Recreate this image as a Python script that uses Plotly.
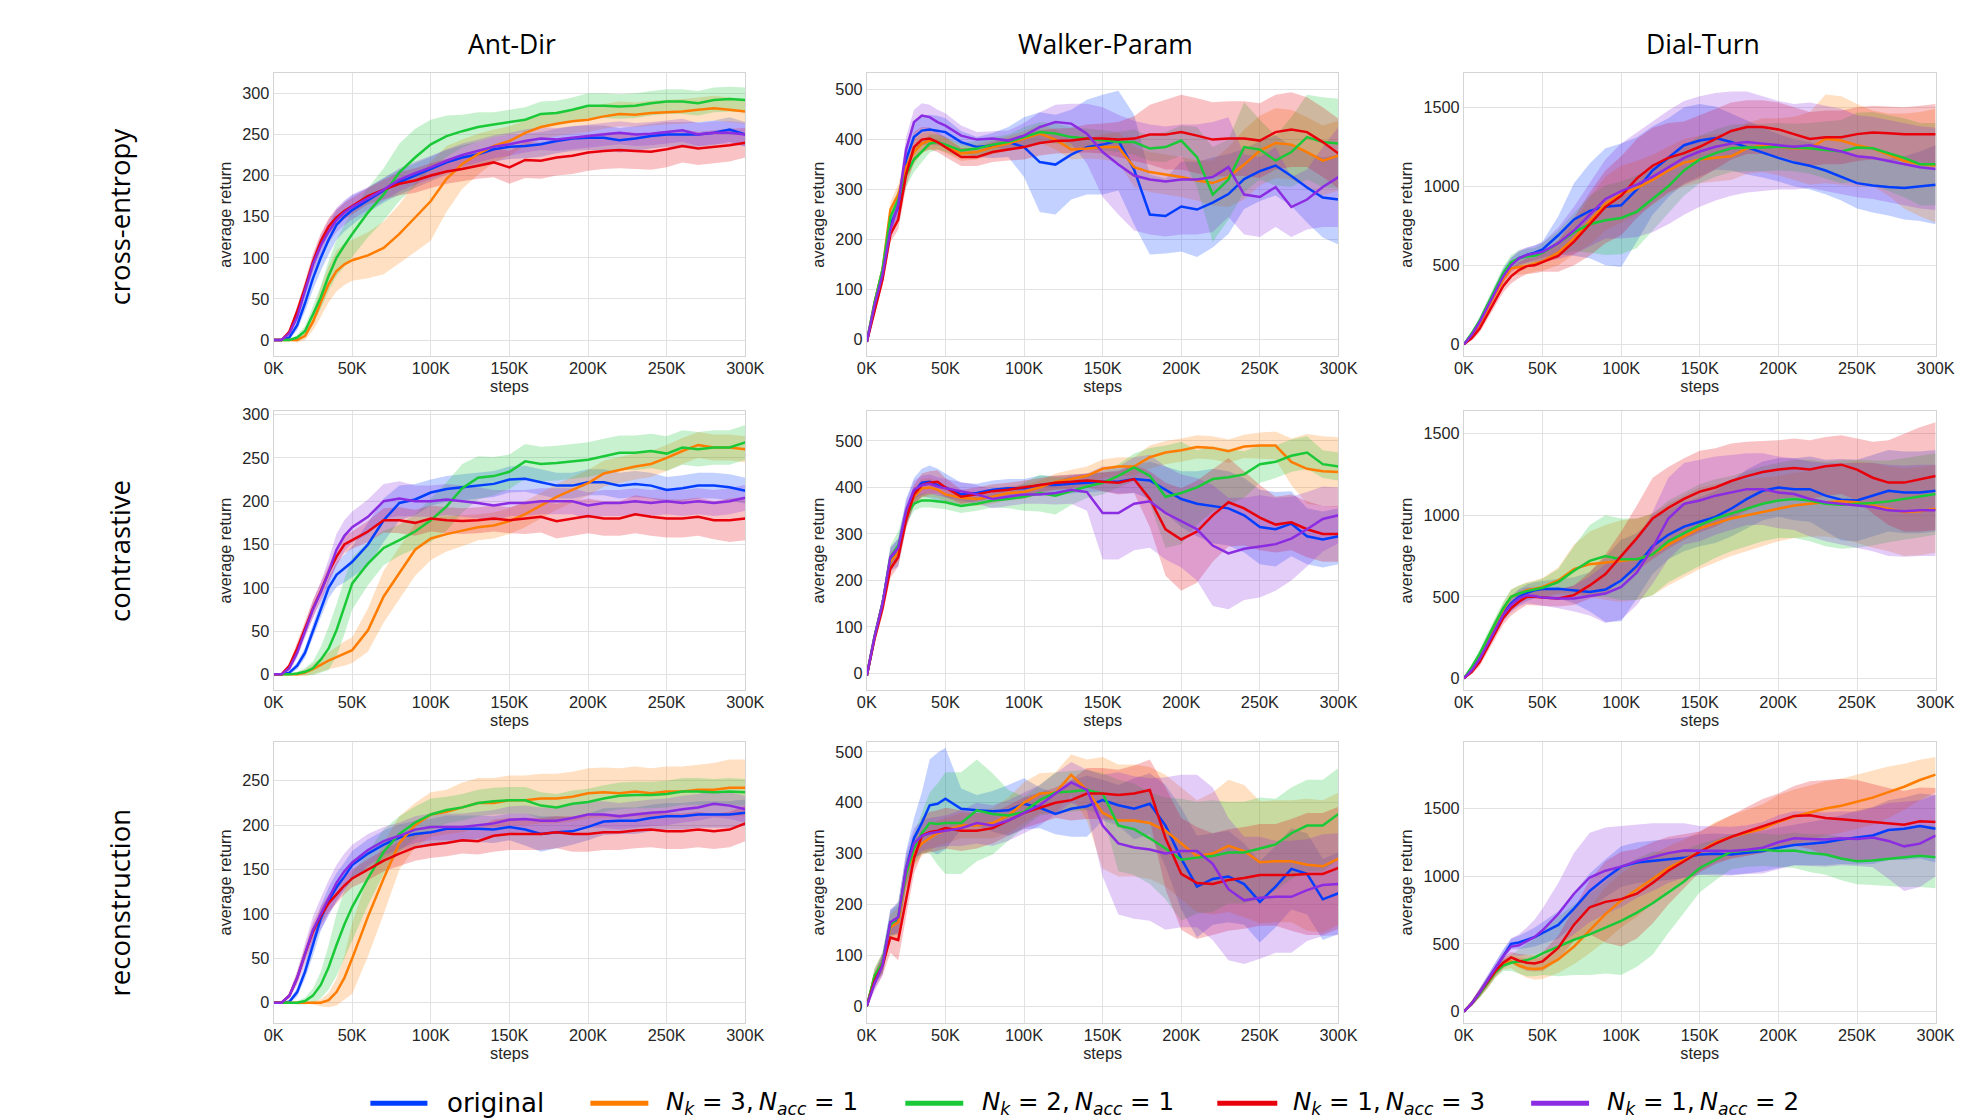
import plotly.graph_objects as go

# ---------------- data ----------------
STEPS_K = [0, 5, 10, 15, 20, 25, 30, 35, 40, 45, 50, 60, 70, 80, 90, 100, 110, 120, 130, 140, 150,
           160, 170, 180, 190, 200, 210, 220, 230, 240, 250, 260, 270, 280, 290, 300]

ENVIRONMENTS = ["Ant-Dir", "Walker-Param", "Dial-Turn"]
LOSSES = ["cross-entropy", "contrastive", "reconstruction"]
SERIES_NAMES = [
    "original",
    "<i>N</i><sub><i>k</i></sub> = 3,&#8201;<i>N</i><sub><i>acc</i></sub> = 1",
    "<i>N</i><sub><i>k</i></sub> = 2,&#8201;<i>N</i><sub><i>acc</i></sub> = 1",
    "<i>N</i><sub><i>k</i></sub> = 1,&#8201;<i>N</i><sub><i>acc</i></sub> = 3",
    "<i>N</i><sub><i>k</i></sub> = 1,&#8201;<i>N</i><sub><i>acc</i></sub> = 2",
]
X_TICK_VALUES = [0, 50000, 100000, 150000, 200000, 250000, 300000]
X_TICK_LABELS = ["0K", "50K", "100K", "150K", "200K", "250K", "300K"]

# cross-entropy / Ant-Dir
ce_ant_orig = [0,0,3,18,45,75,100,122,140,150,158, 170,182,192,200,208,216,222,226,232,235, 236,238,242,245,246,246,243,245,248,250, 250,250,252,256,250]
ce_ant_k3a1 = [0,0,0,0,5,22,46,68,84,92,97, 103,112,129,149,169,196,214,226,236,242, 252,259,263,266,268,272,275,274,276,277, 278,280,282,280,278]
ce_ant_k2a1 = [0,0,0,3,11,31,52,78,100,115,129, 155,177,204,222,238,248,254,259,262,265, 268,275,276,280,285,285,284,285,288,290, 290,288,292,293,292]
ce_ant_k1a3 = [0,0,10,35,64,95,120,138,149,157,163, 175,183,190,194,200,205,208,212,216,210, 219,218,222,224,228,230,231,230,229,232, 236,233,235,237,240]
ce_ant_k1a2 = [0,0,8,28,60,92,115,132,146,155,162, 172,183,195,203,210,218,225,230,235,238, 242,245,244,246,248,250,252,250,251,253, 255,250,252,252,250]
ce_ant_orig_hw = [0,0,2,6,10,14,16,18,18,18,18, 15,15,15,15,15,15,15,15,15,15, 15,15,15,15,15,15,15,15,15,15, 15,15,15,15,15]
ce_ant_k3a1_hw = [0,0,1,3,5,10,18,22,25,25,25, 28,32,36,42,48,40,30,25,20,18, 15,15,15,15,15,15,15,15,15,15, 15,15,15,15,15]
ce_ant_k2a1_hw = [0,0,0,3,6,10,14,18,22,25,28, 30,32,35,35,30,25,20,18,15,15, 15,15,15,15,15,15,15,15,15,15, 15,15,15,15,15]
ce_ant_k1a3_hw = [0,0,3,6,8,10,10,10,10,10,10, 10,12,14,15,15,15,15,16,18,20, 22,22,22,22,22,22,22,22,22,22, 20,20,20,20,18]
ce_ant_k1a2_hw = [0,0,3,6,8,10,12,14,15,15,15, 14,14,14,14,14,14,14,14,14,14, 14,14,14,14,14,14,14,14,14,14, 14,14,14,14,14]

# cross-entropy / Walker-Param
ce_walker_orig = [-5,70,130,230,265,360,405,418,420,418,415, 395,385,388,395,385,355,350,370,385,390, 398,340,250,247,266,260,274,291,321,337, 348,327,304,284,280]
ce_walker_k3a1 = [-5,75,140,260,290,345,375,392,398,395,388, 372,375,385,392,402,412,400,380,382,385, 385,345,335,330,325,318,313,325,350,378, 393,390,375,358,368]
ce_walker_k2a1 = [-5,75,140,245,280,330,360,375,392,395,390, 378,382,390,395,405,415,412,405,402,398, 395,395,382,385,398,365,290,320,385,380, 358,375,405,395,392]
ce_walker_k1a3 = [-5,60,120,210,240,330,385,400,402,395,385, 365,365,375,380,385,393,397,398,402,402, 400,402,410,410,415,408,400,402,402,398, 415,420,415,395,372]
ce_walker_k1a2 = [-5,70,130,220,270,380,435,448,445,435,428, 408,400,402,398,408,425,435,432,412,375, 350,328,320,316,320,320,325,345,290,285, 305,265,280,305,325]
ce_walker_orig_hw = [3,10,12,15,20,25,28,30,30,30,28, 22,20,25,30,60,100,100,90,95,100, 100,110,80,75,90,95,90,80,60,60, 60,60,70,80,90]
ce_walker_k3a1_hw = [3,10,12,15,20,25,25,20,18,15,15, 15,15,15,15,15,18,20,20,20,25, 30,40,40,40,40,40,45,60,70,70, 70,70,70,70,70]
ce_walker_k2a1_hw = [3,10,12,15,20,25,25,20,18,15,15, 15,15,15,15,20,20,20,20,20,20, 20,25,25,30,30,60,95,80,90,60, 50,70,85,90,90]
ce_walker_k1a3_hw = [3,10,12,15,20,25,30,25,22,20,20, 18,18,20,22,25,25,25,25,28,30, 35,45,60,70,75,75,75,75,75,75, 75,75,70,70,70]
ce_walker_k1a2_hw = [3,10,12,15,20,25,25,25,25,25,25, 20,15,15,20,25,30,35,40,60,90, 100,110,110,110,110,110,110,100,80,80, 80,60,60,80,100]

# cross-entropy / Dial-Turn
ce_dial_orig = [0,60,140,240,340,440,510,545,565,580,600, 690,790,845,870,880,980,1100,1180,1260,1290, 1305,1280,1245,1215,1180,1150,1130,1100,1060,1020, 1005,995,990,1000,1010]
ce_dial_k3a1 = [0,60,130,230,320,410,480,490,495,510,525, 580,670,780,890,950,990,1040,1100,1150,1170, 1180,1190,1240,1260,1250,1240,1240,1300,1290,1260, 1240,1200,1160,1140,1130]
ce_dial_k2a1 = [0,70,150,250,350,450,520,545,555,560,580, 640,710,760,785,800,840,920,1000,1100,1170, 1210,1240,1245,1245,1250,1245,1240,1230,1220,1245, 1240,1210,1180,1140,1140]
ce_dial_k1a3 = [0,40,100,190,280,370,430,470,495,500,520, 560,650,760,870,940,1050,1130,1180,1210,1250, 1300,1350,1375,1375,1360,1330,1300,1310,1310,1330, 1340,1335,1330,1330,1330]
ce_dial_k1a2 = [0,60,140,240,340,430,500,545,565,575,585, 640,720,820,920,970,1010,1060,1120,1180,1220, 1250,1270,1280,1270,1260,1250,1260,1240,1220,1190, 1180,1160,1140,1120,1110]
ce_dial_orig_hw = [0,15,25,30,35,40,40,40,45,45,50, 120,230,300,370,390,330,280,250,240,230, 200,180,170,160,150,150,150,150,150,160, 170,180,200,220,250]
ce_dial_k3a1_hw = [0,15,25,30,35,40,45,50,50,50,60, 80,100,150,170,180,170,160,150,150,150, 150,150,160,170,180,200,230,280,280,260, 240,260,300,330,360]
ce_dial_k2a1_hw = [0,15,25,30,35,40,45,50,50,50,60, 80,120,180,220,230,230,200,170,160,150, 150,150,150,150,150,150,160,180,200,220, 230,240,250,260,260]
ce_dial_k1a3_hw = [0,15,25,30,35,40,45,50,50,50,60, 100,150,200,230,250,250,240,220,200,200, 190,180,170,170,170,170,170,170,170,170, 170,170,170,180,190]
ce_dial_k1a2_hw = [0,15,25,30,35,40,45,50,50,50,60, 100,150,200,250,300,330,350,360,360,350, 340,330,320,300,280,270,270,270,270,260, 260,260,260,260,260]

# contrastive / Ant-Dir
con_ant_orig = [0,0,2,10,25,50,76,100,115,122,130, 150,178,198,202,210,214,216,218,220,225, 226,222,218,218,222,222,218,220,218,213, 215,218,218,216,212]
con_ant_k3a1 = [0,0,0,0,2,6,11,16,20,24,28, 51,90,117,144,157,162,166,170,172,177, 185,195,205,213,221,232,236,240,243,250, 258,265,262,262,260]
con_ant_k2a1 = [0,0,0,1,3,7,17,30,51,78,105, 128,146,155,165,178,194,215,227,229,234, 246,243,244,246,248,252,256,256,258,255, 262,260,262,262,268]
con_ant_k1a3 = [0,0,10,30,53,76,96,118,136,150,155, 165,178,178,175,180,178,177,178,180,178, 180,182,177,180,183,180,180,185,182,180, 180,182,178,178,180]
con_ant_k1a2 = [0,0,7,25,50,75,95,118,144,160,170, 182,200,203,200,200,202,200,198,195,198, 198,200,200,200,195,198,198,200,198,200, 198,200,198,200,204]
con_ant_orig_hw = [0,0,2,4,6,8,10,12,14,16,18, 25,25,20,18,15,15,15,15,15,15, 15,15,15,15,15,15,15,15,15,15, 15,15,15,15,15]
con_ant_k3a1_hw = [0,0,0,2,4,6,8,10,12,14,15, 25,30,30,30,25,20,18,15,15,15, 15,15,15,15,15,15,15,15,15,15, 15,15,15,15,15]
con_ant_k2a1_hw = [0,0,0,2,4,8,15,25,30,32,30, 25,20,18,20,25,28,28,25,22,20, 20,20,20,20,20,20,20,20,20,20, 20,20,20,20,20]
con_ant_k1a3_hw = [0,0,3,6,8,10,10,10,10,10,10, 12,14,15,15,15,15,15,15,15,15, 18,18,20,20,20,20,20,22,22,22, 22,22,22,25,25]
con_ant_k1a2_hw = [0,0,3,6,8,10,12,15,18,18,18, 20,20,20,18,18,18,18,18,18,15, 15,15,15,15,15,15,15,15,15,15, 15,15,15,15,15]

# contrastive / Walker-Param
con_walker_orig = [-5,80,150,245,260,345,390,410,412,405,400, 385,388,395,398,398,405,405,408,410,412, 412,418,415,395,375,365,360,355,340,315, 310,322,295,288,295]
con_walker_k3a1 = [-5,80,150,240,260,340,380,398,400,395,385, 378,375,380,388,390,400,412,418,425,440, 445,445,465,475,480,487,485,478,488,490, 490,455,440,435,433]
con_walker_k2a1 = [-5,80,150,250,275,340,365,372,372,370,368, 360,365,372,375,380,388,382,392,402,410, 425,443,425,380,388,400,418,422,428,450, 455,468,475,450,445]
con_walker_k1a3 = [-5,75,140,225,250,330,385,405,410,412,400, 380,385,392,395,400,405,410,412,415,412, 410,418,375,310,288,305,340,368,355,335, 320,325,310,300,300]
con_walker_k1a2 = [-5,80,150,250,270,350,395,405,408,402,398, 392,385,375,380,385,385,388,395,390,345, 345,365,370,345,328,310,275,258,268,273, 278,290,310,332,340]
con_walker_orig_hw = [3,10,15,25,30,30,30,30,35,35,30, 25,20,20,20,20,20,20,20,20,20, 25,30,40,50,60,70,80,80,80,80, 80,70,60,60,60]
con_walker_k3a1_hw = [3,10,15,20,20,20,20,20,20,18,15, 15,15,15,15,15,15,18,20,20,20, 20,20,25,25,25,25,25,25,25,28, 30,50,75,75,75]
con_walker_k2a1_hw = [3,10,15,25,30,20,15,15,15,15,15, 15,15,15,20,30,40,40,30,25,25, 25,30,60,110,110,80,70,60,50,40, 35,35,35,30,30]
con_walker_k1a3_hw = [3,10,15,20,20,20,20,25,25,25,20, 15,15,15,15,15,15,15,15,15,20, 25,30,60,100,110,110,100,95,80,70, 60,60,60,60,60]
con_walker_k1a2_hw = [3,10,15,20,20,20,20,20,20,20,20, 20,20,20,20,20,20,25,30,40,100, 100,100,100,100,100,110,130,120,110,110, 100,90,80,70,60]

# contrastive / Dial-Turn
con_dial_orig = [0,60,140,230,320,400,460,500,525,540,548, 550,540,530,545,600,690,810,880,930,960, 990,1040,1100,1150,1170,1160,1160,1120,1095,1090, 1120,1150,1140,1140,1150]
con_dial_k3a1 = [0,60,140,240,330,420,500,520,540,550,560, 600,670,700,710,720,730,760,820,870,920, 950,980,1000,1020,1040,1060,1070,1080,1085,1080, 1060,1040,1020,1025,1040]
con_dial_k2a1 = [0,70,150,250,340,430,500,520,535,545,555, 590,660,720,750,730,730,760,840,890,940, 980,1010,1040,1070,1090,1100,1090,1070,1065,1070, 1075,1085,1100,1115,1130]
con_dial_k1a3 = [0,40,100,190,280,370,430,470,500,500,495, 490,510,570,640,750,860,980,1045,1100,1145, 1170,1210,1240,1265,1280,1290,1280,1300,1310,1280, 1230,1200,1200,1220,1240]
con_dial_k1a2 = [0,50,120,210,300,390,450,490,510,505,495, 490,490,505,520,560,650,800,980,1070,1090, 1120,1140,1160,1160,1140,1130,1100,1080,1070,1060, 1050,1030,1025,1030,1030]
con_dial_orig_hw = [0,15,25,30,35,40,45,50,50,50,50, 60,80,120,200,250,200,170,150,150,150, 160,170,180,180,180,190,200,220,250,250, 250,250,250,250,250]
con_dial_k3a1_hw = [0,15,25,30,35,40,45,50,50,50,55, 80,150,200,230,250,250,250,250,250,250, 240,230,220,210,200,200,200,210,230,250, 260,260,270,270,270]
con_dial_k2a1_hw = [0,15,25,30,35,40,45,50,50,50,55, 80,150,220,250,250,250,250,250,250,250, 240,230,230,230,230,240,250,260,270,270, 260,250,250,250,250]
con_dial_k1a3_hw = [0,15,25,30,35,40,45,50,50,50,50, 50,60,80,120,150,200,250,250,250,250, 240,230,210,190,180,180,180,180,180,190, 220,260,300,320,330]
con_dial_k1a2_hw = [0,15,25,30,35,40,45,50,50,50,50, 60,80,120,180,200,200,220,250,250,250, 240,230,220,220,220,220,230,240,250,260, 270,280,280,280,280]

# reconstruction / Ant-Dir
rec_ant_orig = [0,0,1,12,35,65,95,115,130,142,155, 168,178,186,190,192,196,196,196,195,198, 195,190,192,193,198,204,205,205,208,210, 210,212,212,212,214]
rec_ant_k3a1 = [0,0,0,0,0,0,0,3,12,28,50, 97,140,180,200,212,215,220,225,225,228, 228,230,230,232,236,237,236,238,236,238, 238,240,240,242,242]
rec_ant_k2a1 = [0,0,0,0,2,8,20,40,65,88,108, 140,170,190,203,212,217,220,225,227,228, 228,222,220,224,226,230,233,234,234,235, 238,238,237,238,237]
rec_ant_k1a3 = [0,0,8,28,55,80,98,112,122,132,140, 150,160,168,175,178,180,183,182,188,190, 190,190,192,190,190,192,192,194,195,193, 193,195,193,195,202]
rec_ant_k1a2 = [0,0,8,28,55,82,100,118,135,148,158, 172,182,188,195,198,198,198,200,202,206, 207,205,205,208,212,212,210,212,214,215, 218,220,224,222,218]
rec_ant_orig_hw = [0,0,2,5,8,12,14,15,16,16,16, 16,16,15,15,15,15,15,15,15,15, 18,20,18,15,15,15,15,15,15,15, 15,15,15,15,15]
rec_ant_k3a1_hw = [0,0,0,0,0,2,4,8,15,25,40, 45,40,30,25,25,25,28,28,28,28, 28,28,28,28,28,28,28,28,28,28, 28,28,30,32,32]
rec_ant_k2a1_hw = [0,0,0,2,4,8,15,25,35,38,38, 30,25,20,18,18,15,15,15,15,15, 15,15,15,15,15,15,15,15,15,15, 15,15,15,15,15]
rec_ant_k1a3_hw = [0,0,3,6,8,10,10,10,10,10,10, 12,12,14,15,15,15,15,15,18,18, 18,18,18,20,20,20,20,20,20,20, 20,20,20,20,20]
rec_ant_k1a2_hw = [0,0,3,8,12,15,18,20,20,20,20, 18,16,15,15,15,15,15,15,15,15, 15,15,15,15,15,15,15,15,15,15, 15,15,15,15,15]

# reconstruction / Walker-Param
rec_walker_orig = [0,55,85,165,170,270,330,360,395,398,408, 388,385,383,385,398,390,378,388,393,405, 395,388,398,355,290,235,250,255,240,205, 235,270,260,210,222]
rec_walker_k3a1 = [0,60,85,155,165,260,300,320,330,340,345, 355,355,360,375,400,418,420,455,425,380, 365,365,360,345,320,295,300,315,305,283, 285,285,278,275,290]
rec_walker_k2a1 = [0,60,85,160,175,260,310,340,360,358,360, 360,385,378,375,382,405,420,422,425,418, 355,348,330,310,288,292,295,302,302,310, 318,340,355,355,378]
rec_walker_k1a3 = [0,50,80,135,130,210,290,335,342,345,350, 345,345,350,365,380,390,400,405,418,418, 415,418,425,330,260,242,240,248,252,258, 258,258,260,260,272]
rec_walker_k1a2 = [0,45,80,165,175,270,320,335,340,342,345, 350,360,355,365,380,395,418,440,425,355, 320,312,308,300,305,305,280,230,208,213, 215,215,228,238,240]
rec_walker_orig_hw = [3,15,20,25,30,35,40,60,90,100,100, 40,30,40,50,50,40,40,55,60,40, 40,60,60,80,100,100,90,90,80,80, 80,80,80,80,80]
rec_walker_k3a1_hw = [3,15,20,25,30,30,25,25,25,25,25, 25,25,30,35,40,40,40,40,60,110, 110,110,110,110,110,110,120,130,130,120, 120,120,130,130,130]
rec_walker_k2a1_hw = [3,15,20,25,30,30,30,40,60,80,100, 100,100,80,50,30,30,40,40,40,40, 90,90,90,100,120,110,110,100,100,100, 90,90,90,90,90]
rec_walker_k1a3_hw = [3,15,20,30,40,35,30,35,40,40,40, 40,35,30,30,30,30,30,40,50,50, 50,55,60,100,110,110,100,100,100,100, 100,110,120,120,120]
rec_walker_k1a2_hw = [3,15,20,25,30,30,30,30,30,30,30, 35,40,40,40,40,40,40,40,40,100, 140,140,140,150,150,150,150,140,125,120, 110,110,100,100,100]

# reconstruction / Dial-Turn
rec_dial_orig = [0,60,140,230,320,420,500,510,530,550,580, 640,760,890,985,1070,1100,1110,1120,1135,1160, 1165,1160,1170,1185,1210,1230,1240,1250,1270,1285, 1300,1340,1350,1370,1350]
rec_dial_k3a1 = [0,60,130,210,290,350,370,340,320,315,320, 385,480,600,720,820,900,980,1060,1120,1180, 1250,1290,1320,1350,1400,1440,1470,1500,1520,1550, 1580,1620,1660,1710,1750]
rec_dial_k2a1 = [0,60,130,210,290,340,360,370,380,400,430, 480,530,570,620,670,730,800,880,960,1060, 1120,1180,1190,1195,1185,1190,1170,1160,1130,1110, 1115,1130,1140,1150,1140]
rec_dial_k1a3 = [0,60,140,220,300,360,400,375,360,355,370, 470,640,770,810,830,870,950,1040,1110,1180, 1240,1290,1330,1370,1410,1445,1450,1430,1420,1410, 1400,1390,1380,1405,1400]
rec_dial_k1a2 = [0,60,140,230,320,410,480,490,520,550,600, 720,870,990,1040,1070,1110,1140,1170,1190,1190, 1185,1185,1195,1210,1250,1280,1275,1270,1280,1275, 1285,1260,1220,1240,1300]
rec_dial_orig_hw = [0,20,30,40,40,40,40,50,60,70,80, 100,120,130,140,150,150,150,150,150,150, 150,150,150,150,150,150,160,170,180,200, 210,220,230,240,250]
rec_dial_k3a1_hw = [0,20,30,40,40,40,50,60,70,80,80, 100,130,170,200,200,200,180,160,150,150, 150,160,170,180,200,200,200,200,200,200, 200,190,170,150,130]
rec_dial_k2a1_hw = [0,20,30,40,40,40,60,90,120,140,160, 220,260,300,340,400,400,380,300,230,180, 150,130,120,120,120,130,140,150,160,170, 180,200,220,230,230]
rec_dial_k1a3_hw = [0,20,30,40,40,40,40,50,60,60,70, 90,120,200,300,350,330,300,250,200,150, 150,160,180,200,200,220,250,280,300,300, 280,260,250,250,250]
rec_dial_k1a2_hw = [0,20,30,40,40,40,60,80,100,130,160, 230,300,330,320,300,270,250,220,200,180, 180,180,180,190,200,200,200,200,200,200, 220,280,330,320,300]

# ---------------- structure built from the arrays ----------------
PANELS = [
    [([ce_ant_orig, ce_ant_k3a1, ce_ant_k2a1, ce_ant_k1a3, ce_ant_k1a2],
      [ce_ant_orig_hw, ce_ant_k3a1_hw, ce_ant_k2a1_hw, ce_ant_k1a3_hw, ce_ant_k1a2_hw]),
     ([ce_walker_orig, ce_walker_k3a1, ce_walker_k2a1, ce_walker_k1a3, ce_walker_k1a2],
      [ce_walker_orig_hw, ce_walker_k3a1_hw, ce_walker_k2a1_hw, ce_walker_k1a3_hw, ce_walker_k1a2_hw]),
     ([ce_dial_orig, ce_dial_k3a1, ce_dial_k2a1, ce_dial_k1a3, ce_dial_k1a2],
      [ce_dial_orig_hw, ce_dial_k3a1_hw, ce_dial_k2a1_hw, ce_dial_k1a3_hw, ce_dial_k1a2_hw])],
    [([con_ant_orig, con_ant_k3a1, con_ant_k2a1, con_ant_k1a3, con_ant_k1a2],
      [con_ant_orig_hw, con_ant_k3a1_hw, con_ant_k2a1_hw, con_ant_k1a3_hw, con_ant_k1a2_hw]),
     ([con_walker_orig, con_walker_k3a1, con_walker_k2a1, con_walker_k1a3, con_walker_k1a2],
      [con_walker_orig_hw, con_walker_k3a1_hw, con_walker_k2a1_hw, con_walker_k1a3_hw, con_walker_k1a2_hw]),
     ([con_dial_orig, con_dial_k3a1, con_dial_k2a1, con_dial_k1a3, con_dial_k1a2],
      [con_dial_orig_hw, con_dial_k3a1_hw, con_dial_k2a1_hw, con_dial_k1a3_hw, con_dial_k1a2_hw])],
    [([rec_ant_orig, rec_ant_k3a1, rec_ant_k2a1, rec_ant_k1a3, rec_ant_k1a2],
      [rec_ant_orig_hw, rec_ant_k3a1_hw, rec_ant_k2a1_hw, rec_ant_k1a3_hw, rec_ant_k1a2_hw]),
     ([rec_walker_orig, rec_walker_k3a1, rec_walker_k2a1, rec_walker_k1a3, rec_walker_k1a2],
      [rec_walker_orig_hw, rec_walker_k3a1_hw, rec_walker_k2a1_hw, rec_walker_k1a3_hw, rec_walker_k1a2_hw]),
     ([rec_dial_orig, rec_dial_k3a1, rec_dial_k2a1, rec_dial_k1a3, rec_dial_k1a2],
      [rec_dial_orig_hw, rec_dial_k3a1_hw, rec_dial_k2a1_hw, rec_dial_k1a3_hw, rec_dial_k1a2_hw])],
]

# ---------------- style ----------------
W, H = 1982, 1120
COLORS = ["#023eff", "#ff7c00", "#1ac938", "#e8000b", "#8b2be2"]
FILL_ALPHA = 0.24
# figure-pixel positions (calibrated so the photographed page lines up)
COL_LEFT = [259.4, 861.4, 1467.4]
PANEL_W = 478.7
ROW_TOP = [59.6, 399.3, 731.6]
ROW_H = [284.3, 280.3, 283.0]
Y_RANGES = [[[-19.5, 324.4], [-33.4, 532.8], [-74, 1715]],
            [[-18, 304], [-35.6, 564], [-71, 1638]],
            [[-23, 294], [-33.5, 520], [-86, 1993]]]
Y_DTICK = [50, 100, 500]
GRID = "#e2e2e2"
FRAME = "#d4d4d4"
TEXT = "#262626"
TICK_FONT = dict(family="Liberation Sans, Arial, sans-serif", size=16.3, color=TEXT)
TITLE_FONT = "Open Sans, Noto Sans, sans-serif"


def rgba(hex_color, a):
    h = hex_color.lstrip("#")
    return "rgba(%d,%d,%d,%.3f)" % (int(h[0:2], 16), int(h[2:4], 16), int(h[4:6], 16), a)


xs = [k * 1000 for k in STEPS_K]
fig = go.Figure()

for r in range(3):
    for c in range(3):
        idx = r * 3 + c + 1
        sfx = "" if idx == 1 else str(idx)
        means, hws = PANELS[r][c]
        for s in range(5):
            assert len(means[s]) == len(xs) and len(hws[s]) == len(xs), (r, c, s)
        for s in range(5):
            up = [m + h for m, h in zip(means[s], hws[s])]
            lo = [m - h for m, h in zip(means[s], hws[s])]
            fig.add_trace(go.Scatter(
                x=xs + xs[::-1], y=up + lo[::-1], fill="toself",
                fillcolor=rgba(COLORS[s], FILL_ALPHA), line=dict(width=0),
                mode="lines", hoverinfo="skip", showlegend=False,
                xaxis="x" + sfx, yaxis="y" + sfx))
        for s in range(5):
            fig.add_trace(go.Scatter(
                x=xs, y=means[s], mode="lines", name=SERIES_NAMES[s],
                line=dict(color=COLORS[s], width=2.5), showlegend=False,
                xaxis="x" + sfx, yaxis="y" + sfx))

        x0 = COL_LEFT[c] / W
        x1 = (COL_LEFT[c] + PANEL_W) / W
        y1 = 1 - ROW_TOP[r] / H
        y0 = 1 - (ROW_TOP[r] + ROW_H[r]) / H
        fig.update_layout(**{
            "xaxis" + sfx: dict(
                domain=[x0, x1], anchor="y" + sfx, range=[0, 300000],
                tickmode="array", tickvals=X_TICK_VALUES, ticktext=X_TICK_LABELS,
                showgrid=True, gridcolor=GRID, gridwidth=1, zeroline=False,
                showline=True, mirror=True, linecolor=FRAME, linewidth=1,
                ticks="", tickfont=TICK_FONT, ticklabelstandoff=-3,
                title=dict(text="steps", font=dict(family=TICK_FONT["family"], size=16.3, color=TEXT), standoff=1)),
            "yaxis" + sfx: dict(
                domain=[y0, y1], anchor="x" + sfx, range=Y_RANGES[r][c],
                tick0=0, dtick=Y_DTICK[c],
                showgrid=True, gridcolor=GRID, gridwidth=1, zeroline=False,
                showline=True, mirror=True, linecolor=FRAME, linewidth=1,
                ticks="", tickfont=TICK_FONT,
                title=dict(text="average return", font=dict(family=TICK_FONT["family"], size=16.3, color=TEXT), standoff=6)),
        })

annotations = []
for c, env in enumerate(ENVIRONMENTS):
    annotations.append(dict(
        text=env, x=(COL_LEFT[c] + PANEL_W / 2 + 3) / W, y=1 - 29.7 / H,
        xref="paper", yref="paper", xanchor="center", yanchor="middle",
        showarrow=False, font=dict(family=TITLE_FONT, size=26.5, color="black")))
ROW_LABEL_Y = [203.9, 539.3, 892.7]
for r, loss in enumerate(LOSSES):
    annotations.append(dict(
        text=loss, x=103 / W, y=1 - ROW_LABEL_Y[r] / H, textangle=-90,
        xref="paper", yref="paper", xanchor="center", yanchor="middle",
        showarrow=False, font=dict(family=TITLE_FONT, size=27.5, color="black")))

# legend drawn at the bottom
LEG_Y = 1 - 1095.2 / H
LEG_LINE = [(357.6, 415.5), (580.9, 639.7), (900.5, 959.3), (1217.1, 1278.0), (1535.6, 1594.4)]
LEG_TEXT_X = [433.7, 655.9, 976.6, 1292.1, 1610.7]
LEG_SIZE = [26, 24.5, 24.5, 24.5, 24.5]
shapes = []
for s in range(5):
    shapes.append(dict(type="line", xref="paper", yref="paper",
                       x0=LEG_LINE[s][0] / W, x1=LEG_LINE[s][1] / W, y0=LEG_Y, y1=LEG_Y,
                       line=dict(color=COLORS[s], width=5)))
    annotations.append(dict(
        text=SERIES_NAMES[s], x=LEG_TEXT_X[s] / W, y=LEG_Y,
        xref="paper", yref="paper", xanchor="left", yanchor="middle",
        showarrow=False, font=dict(family="DejaVu Sans, sans-serif", size=LEG_SIZE[s], color="black")))

fig.update_layout(
    width=W, height=H, margin=dict(l=0, r=0, t=0, b=0),
    paper_bgcolor="white", plot_bgcolor="white",
    showlegend=False, annotations=annotations, shapes=shapes,
)

fig.write_html("out.html")
